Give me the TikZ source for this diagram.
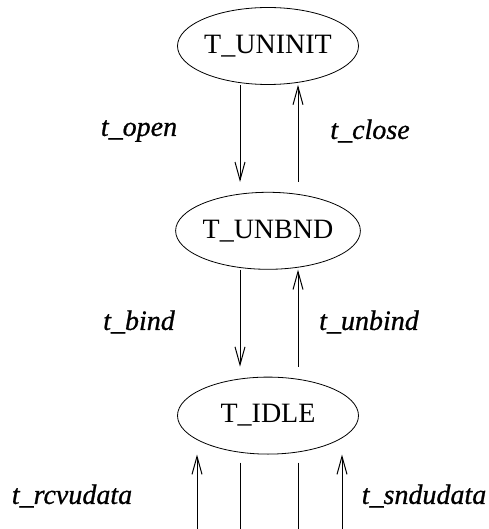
\documentclass[tikz,border=0pt]{standalone}
\usepackage{fontspec}
\setmainfont{Liberation Serif}
\newfontfamily\lblfont[FakeBold=0.8]{Liberation Serif Italic}
\usetikzlibrary{positioning,shapes.geometric,arrows.meta}
\begin{document}
\begin{tikzpicture}[
   x=0.5pt, y=-0.5pt,
   node distance=53.5pt,
   state/.style={ellipse, draw, line width=0.4pt, minimum width=90.5pt, minimum height=38.5pt, inner sep=0pt, font=\fontsize{14}{16}\selectfont},
   lbl/.style={font=\fontsize{14}{16}\lblfont},
   arrow/.style={-{Straight Barb[length=9pt, width=5pt, line width=0.5pt]}, line width=0.5pt}
]
\useasboundingbox (0,0) rectangle (488,529);
% Nodes
\node[state] (uninit) at (268,46) {T\_UNINIT};
\node[state] (unbnd) [below=of uninit] {T\_UNBND};
\node[state] (idle) [below=of unbnd] {T\_IDLE};
\coordinate (rcvend) at ([xshift=-35.5pt, yshift=-39pt]idle.south);
\coordinate (rcvfrom) at ([xshift=-14pt, yshift=-39pt]idle.south);
\coordinate (sndfrom) at ([xshift=15pt, yshift=-39pt]idle.south);
\coordinate (sndend) at ([xshift=37pt, yshift=-39pt]idle.south);

% Labels
\node[lbl] (open) at (139,131) {t\_open};
\node[lbl] (close) at (370,131) {t\_close};
\node[lbl] (bind) at (139,322) {t\_bind};
\node[lbl] (unbind) at (369,322) {t\_unbind};
\node[lbl] (rcv) at (72,496) {t\_rcvudata};
\node[lbl] (snd) at (424,496) {t\_sndudata};

% Edges
\draw[arrow] ([xshift=-14pt]uninit.south) -- ([xshift=-14pt, yshift=5pt]unbnd.north);
\draw[arrow] ([xshift=15pt, yshift=5pt]unbnd.north) -- ([xshift=15pt]uninit.south);
\draw[arrow] ([xshift=-14pt]unbnd.south) -- ([xshift=-14pt, yshift=5pt]idle.north);
\draw[arrow] ([xshift=15pt, yshift=5pt]idle.north) -- ([xshift=15pt]unbnd.south);
\draw[arrow] (rcvend) -- ([xshift=-35.5pt]idle.south);
\draw ([xshift=-14pt, yshift=-4pt]idle.south) -- (rcvfrom);
\draw ([xshift=15pt, yshift=-4pt]idle.south) -- (sndfrom);
\draw[arrow] (sndend) -- ([xshift=37pt]idle.south);

\end{tikzpicture}
\end{document}
